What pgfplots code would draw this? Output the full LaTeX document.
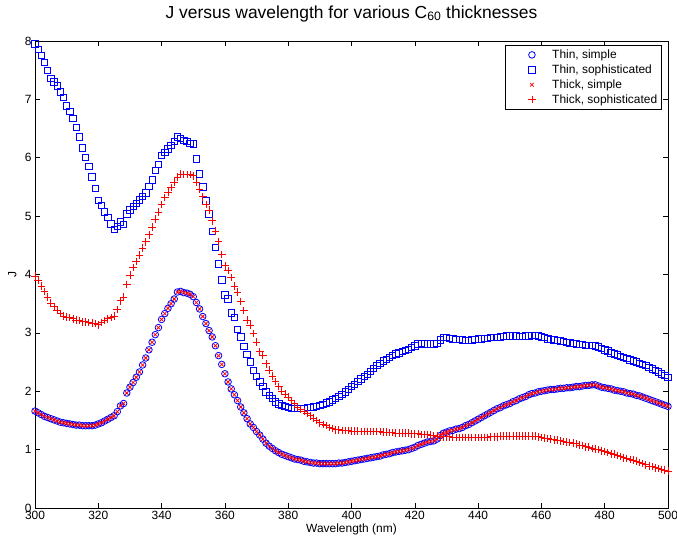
\documentclass[border=0pt]{standalone}
\usepackage{pgfplots}
\usepackage{pgfplotstable}
\usepackage{fontspec}
\setmainfont{Liberation Sans}
\pgfplotsset{compat=1.18}
\pgfplotstableread{
x C S P
300 1.66 7.95 3.97
301 1.63 7.86 3.90
302 1.60 7.75 3.80
303 1.57 7.63 3.71
304 1.55 7.50 3.61
305 1.53 7.36 3.51
306 1.51 7.30 3.45
307 1.49 7.23 3.39
308 1.47 7.13 3.33
309 1.46 7.03 3.29
310 1.45 6.89 3.27
311 1.44 6.79 3.26
312 1.43 6.67 3.24
313 1.42 6.52 3.22
314 1.42 6.36 3.21
315 1.41 6.17 3.19
316 1.41 6.01 3.19
317 1.41 5.85 3.18
318 1.41 5.67 3.17
319 1.42 5.47 3.16
320 1.44 5.27 3.14
321 1.46 5.18 3.18
322 1.49 5.07 3.21
323 1.52 4.98 3.24
324 1.55 4.87 3.26
325 1.58 4.77 3.29
326 1.65 4.82 3.40
327 1.75 4.90 3.55
328 1.79 4.86 3.61
329 1.97 5.04 3.83
330 2.07 5.11 3.99
331 2.15 5.17 4.12
332 2.24 5.22 4.22
333 2.33 5.28 4.33
334 2.45 5.34 4.45
335 2.57 5.40 4.56
336 2.71 5.51 4.68
337 2.84 5.62 4.81
338 2.97 5.78 4.95
339 3.09 5.89 5.07
340 3.23 6.04 5.20
341 3.33 6.09 5.32
342 3.42 6.15 5.41
343 3.50 6.21 5.49
344 3.58 6.28 5.58
345 3.70 6.36 5.67
346 3.71 6.33 5.72
347 3.69 6.30 5.71
348 3.68 6.28 5.71
349 3.66 6.25 5.71
350 3.62 6.24 5.69
351 3.52 5.98 5.58
352 3.41 5.72 5.46
353 3.28 5.50 5.33
354 3.16 5.26 5.20
355 3.04 5.04 5.10
356 2.93 4.74 4.92
357 2.78 4.46 4.74
358 2.61 4.18 4.56
359 2.46 3.91 4.34
360 2.30 3.65 4.15
361 2.16 3.58 4.07
362 2.04 3.34 3.95
363 1.94 3.27 3.80
364 1.84 3.06 3.70
365 1.73 2.93 3.54
366 1.63 2.77 3.38
367 1.53 2.63 3.22
368 1.44 2.50 3.13
369 1.38 2.36 2.99
370 1.31 2.25 2.84
371 1.25 2.16 2.68
372 1.18 2.08 2.61
373 1.11 1.99 2.47
374 1.06 1.93 2.36
375 1.02 1.88 2.26
376 0.98 1.82 2.17
377 0.95 1.78 2.08
378 0.92 1.76 2.00
379 0.90 1.74 1.95
380 0.88 1.72 1.90
381 0.86 1.71 1.84
382 0.84 1.71 1.79
383 0.83 1.71 1.73
384 0.82 1.71 1.69
385 0.80 1.71 1.65
386 0.79 1.72 1.62
387 0.78 1.72 1.58
388 0.77 1.73 1.54
389 0.77 1.74 1.50
390 0.76 1.76 1.46
391 0.76 1.77 1.43
392 0.76 1.80 1.41
393 0.76 1.82 1.38
394 0.76 1.85 1.36
395 0.76 1.88 1.34
396 0.77 1.91 1.34
397 0.77 1.95 1.33
398 0.78 1.99 1.33
399 0.79 2.03 1.33
400 0.80 2.08 1.32
401 0.81 2.12 1.32
402 0.82 2.17 1.32
403 0.83 2.21 1.31
404 0.84 2.25 1.31
405 0.85 2.29 1.31
406 0.86 2.34 1.31
407 0.87 2.39 1.31
408 0.88 2.44 1.31
409 0.89 2.48 1.31
410 0.91 2.52 1.30
411 0.92 2.55 1.30
412 0.93 2.58 1.29
413 0.95 2.61 1.29
414 0.96 2.64 1.28
415 0.97 2.66 1.28
416 0.98 2.68 1.28
417 0.99 2.70 1.28
418 1.00 2.72 1.28
419 1.02 2.75 1.27
420 1.04 2.78 1.27
421 1.07 2.81 1.27
422 1.09 2.82 1.26
423 1.11 2.81 1.26
424 1.13 2.81 1.26
425 1.14 2.81 1.25
426 1.15 2.81 1.24
427 1.18 2.82 1.23
428 1.24 2.88 1.22
429 1.28 2.92 1.22
430 1.30 2.92 1.22
431 1.32 2.91 1.22
432 1.33 2.90 1.21
433 1.35 2.89 1.21
434 1.36 2.89 1.21
435 1.38 2.88 1.21
436 1.41 2.87 1.21
437 1.43 2.87 1.21
438 1.46 2.88 1.21
439 1.49 2.89 1.21
440 1.52 2.90 1.21
441 1.55 2.90 1.21
442 1.58 2.91 1.21
443 1.61 2.91 1.21
444 1.64 2.92 1.22
445 1.67 2.92 1.22
446 1.70 2.92 1.22
447 1.72 2.93 1.23
448 1.75 2.94 1.23
449 1.77 2.95 1.23
450 1.79 2.95 1.23
451 1.82 2.95 1.23
452 1.84 2.95 1.23
453 1.87 2.94 1.23
454 1.89 2.94 1.23
455 1.91 2.95 1.23
456 1.94 2.95 1.23
457 1.96 2.96 1.23
458 1.97 2.96 1.23
459 1.99 2.95 1.22
460 2.00 2.93 1.21
461 2.01 2.92 1.20
462 2.02 2.90 1.19
463 2.03 2.89 1.18
464 2.03 2.88 1.17
465 2.04 2.87 1.16
466 2.05 2.86 1.15
467 2.05 2.85 1.14
468 2.06 2.84 1.13
469 2.06 2.83 1.12
470 2.07 2.82 1.11
471 2.08 2.81 1.10
472 2.08 2.80 1.08
473 2.09 2.80 1.07
474 2.10 2.79 1.05
475 2.10 2.79 1.04
476 2.11 2.79 1.02
477 2.11 2.78 1.01
478 2.09 2.76 1.00
479 2.07 2.73 0.98
480 2.06 2.71 0.97
481 2.05 2.69 0.95
482 2.04 2.66 0.93
483 2.02 2.64 0.92
484 2.01 2.62 0.90
485 2.00 2.60 0.88
486 1.99 2.58 0.86
487 1.97 2.56 0.85
488 1.96 2.54 0.83
489 1.95 2.52 0.82
490 1.93 2.50 0.80
491 1.92 2.48 0.78
492 1.90 2.46 0.76
493 1.88 2.44 0.74
494 1.86 2.41 0.72
495 1.84 2.38 0.71
496 1.82 2.36 0.69
497 1.80 2.33 0.68
498 1.78 2.30 0.66
499 1.76 2.27 0.65
500 1.74 2.24 0.63
}\data
\pgfplotsset{
  mylegend/.style={legend image code/.code={\path (0bp,0bp) (42bp,0bp); \draw[##1] plot coordinates {(24bp,0bp)};}},
}
\begin{document}
\begin{tikzpicture}
\useasboundingbox (-35bp,-37bp) rectangle (642bp,508bp);
\begin{axis}[
  scale only axis,
  width=633bp, height=467bp,
  xmin=300, xmax=500, ymin=0, ymax=8,
  xtick={300,320,...,500}, ytick={0,1,...,8},
  tick align=inside,
  major tick length=5bp,
  axis line style={line width=0.8bp},
  every tick/.style={black, line width=0.6bp},
  font=\fontsize{12}{14}\selectfont,
  /pgf/number format/assume math mode=true,
  title={J versus wavelength for various C\textsubscript{60} thicknesses},
  title style={font=\fontsize{17.5}{19}\selectfont, at={(0.5,1)}, anchor=base, yshift=17bp},
  xlabel={Wavelength (nm)},
  ylabel={J},
  xlabel style={yshift=3bp},
  ylabel style={at={(axis description cs:-0.036,0.5)}, anchor=center},
  legend style={at={(1,1)}, anchor=north east, xshift=-6bp, yshift=-4bp,
    draw=black, line width=0.6bp, font=\fontsize{12}{14}\selectfont,
    inner sep=2.5bp, row sep=0.8bp, cells={anchor=west}},
]
\node[anchor=south west, inner sep=0pt, font=\fontsize{12}{14}\selectfont] at (rel axis cs:0,1) [yshift=3bp] {x 10\textsuperscript{$-$5}};
\addplot[only marks, draw=blue, mark=o, mark size=3.3bp, mark options={line width=0.8bp}, mylegend] table[x=x, y=C] {\data};
\addlegendentry{Thin, simple}
\addplot[only marks, draw=blue, mark=square, mark size=3.2bp, mark options={line width=0.8bp}, mylegend] table[x=x, y=S] {\data};
\addlegendentry{Thin, sophisticated}
\addplot[only marks, draw=red, mark=x, mark size=2.6bp, mark options={line width=0.8bp}, mylegend] table[x=x, y=C] {\data};
\addlegendentry{Thick, simple}
\addplot[only marks, draw=red, mark=+, mark size=3.8bp, mark options={line width=0.8bp}, mylegend] table[x=x, y=P] {\data};
\addlegendentry{Thick, sophisticated}
\end{axis}
\end{tikzpicture}
\end{document}
